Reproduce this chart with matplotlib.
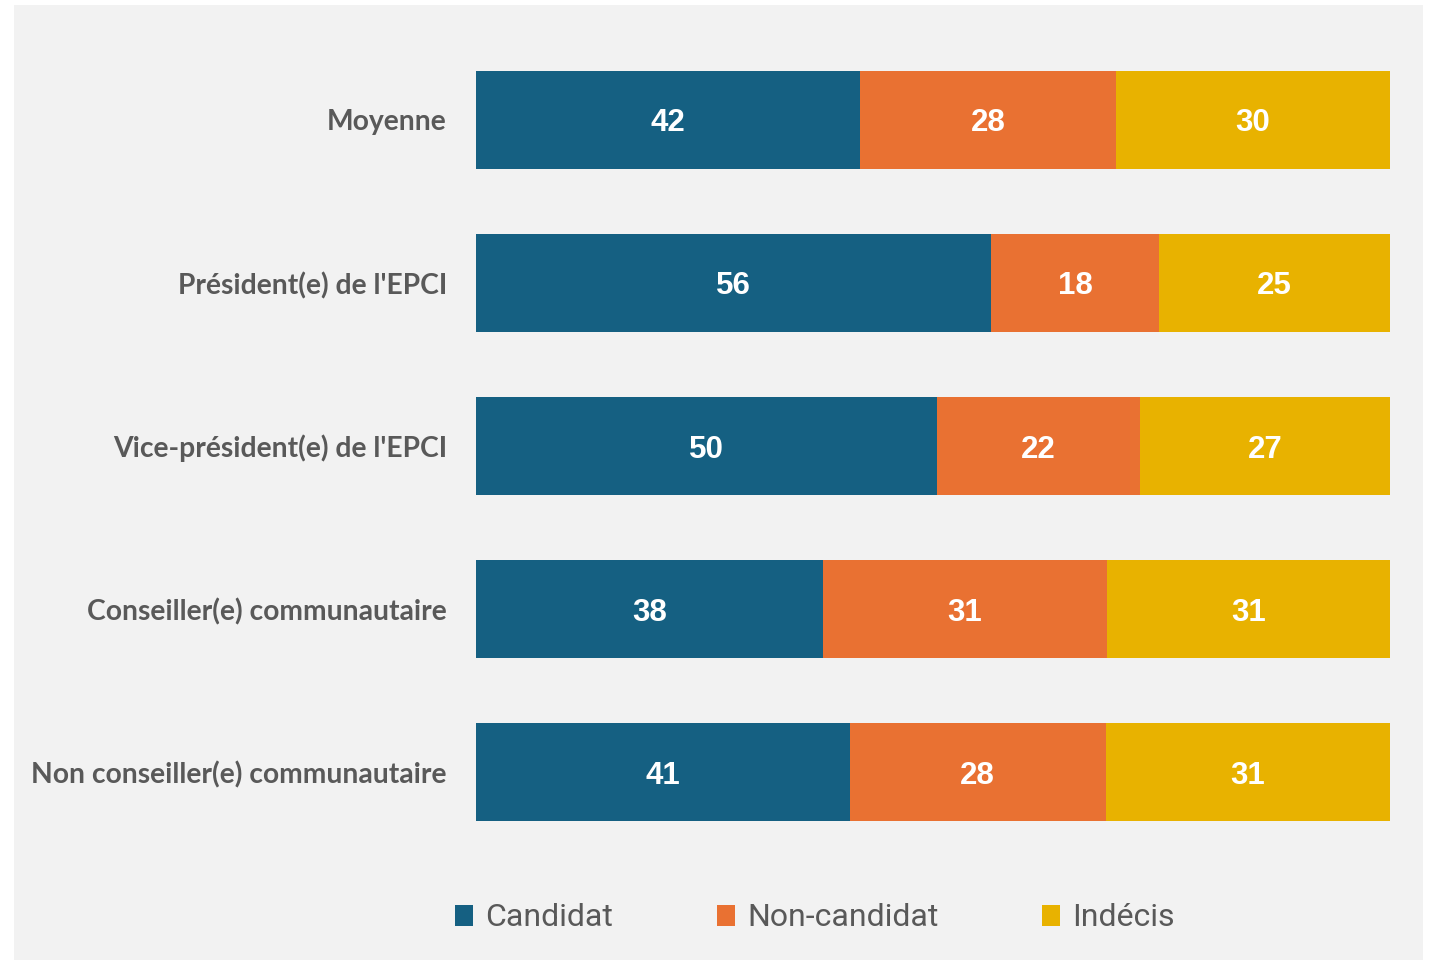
import matplotlib.pyplot as plt
from matplotlib.patches import Rectangle
import numpy as np

# categories (top to bottom) and shares in %
categories = [
    "Moyenne",
    "Président(e) de l'EPCI",
    "Vice-président(e) de l'EPCI",
    "Conseiller(e) communautaire",
    "Non conseiller(e) communautaire",
]
candidat = [42.0, 56.4, 50.4, 38.0, 40.9]
non_candidat = [28.0, 18.3, 22.2, 31.0, 28.0]
indecis = [30.0, 25.3, 27.4, 31.0, 31.1]
series_names = ["Candidat", "Non-candidat", "Indécis"]
colors = ["#156082", "#E97132", "#E8B200"]

W, H = 1430, 960
fig = plt.figure(figsize=(W / 100, H / 100), dpi=100)
fig.patch.set_facecolor("white")
# light grey panel behind the chart
fig.patches.append(Rectangle((14 / W, 0), (1423 - 14) / W, 1 - 5 / H,
                             transform=fig.transFigure, facecolor="#F2F2F2",
                             edgecolor="none", zorder=-10))

ax = fig.add_axes([476 / W, 1 - 821 / H, (1390 - 476) / W, (821 - 71) / H])
ax.set_facecolor("none")

y = np.arange(len(categories))
left = np.zeros(len(categories))
for name, vals, c in zip(series_names, [candidat, non_candidat, indecis], colors):
    vals = np.array(vals)
    bars = ax.barh(y, vals, left=left, height=0.6, color=c, label=name)
    for b, v in zip(bars, vals):
        ax.text(b.get_x() + b.get_width() / 2, b.get_y() + b.get_height() / 2,
                f"{v:.0f}", ha="center", va="center_baseline", color="white",
                fontsize=22.5, fontweight="bold", family="Liberation Sans")
    left += vals

ax.set_xlim(0, 100)
ax.set_ylim(4.3, -0.3)
ax.set_yticks(y)
ax.set_yticklabels(categories, fontsize=20.3, fontweight="bold",
                   color="#595959", family="Lato")
ax.tick_params(axis="y", length=0, pad=21)
ax.set_xticks([])
for s in ax.spines.values():
    s.set_visible(False)

handles, labels = ax.get_legend_handles_labels()
leg = fig.legend(handles, labels, loc="center", ncol=3,
                 bbox_to_anchor=(815 / W, 1 - 918 / H), frameon=False,
                 prop={"family": "Roboto", "size": 23},
                 handlelength=0.56, handleheight=0.63, handletextpad=0.38,
                 columnspacing=3.25, labelcolor="#595959")

fig.savefig("out.png", dpi=100)
